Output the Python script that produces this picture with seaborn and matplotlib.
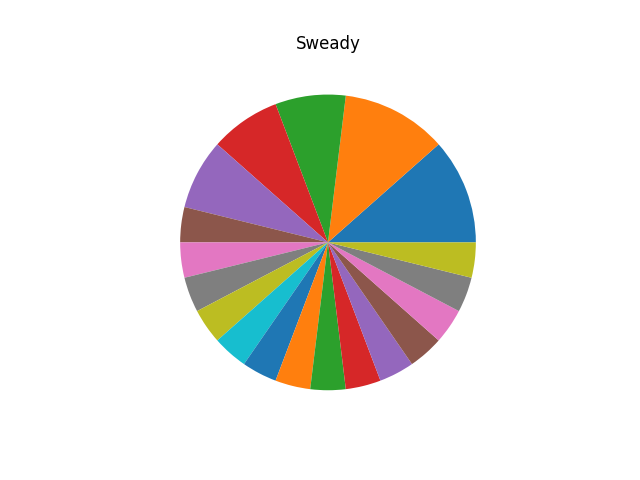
#! /usr/bin/env python3
# -*- coding: utf-8 -*-

import matplotlib
matplotlib.use('Agg')
import matplotlib.pyplot as plt
import seaborn as sns

# slice sizes (smallest slice ~13.85 deg -> 1 unit)
slice_values = [3, 3, 2, 2, 2, 1, 1, 1, 1, 1, 1, 1, 1, 1, 1, 1, 1, 1, 1]
title = 'Sweady'

colors = sns.color_palette('tab10', 10)
slice_colors = [colors[i % 10] for i in range(len(slice_values))]

fig, ax = plt.subplots(figsize=(6.4, 4.8), dpi=100)
ax.pie(slice_values, colors=slice_colors)
ax.set_title(title)

fig.savefig('out.png')
plt.close()
